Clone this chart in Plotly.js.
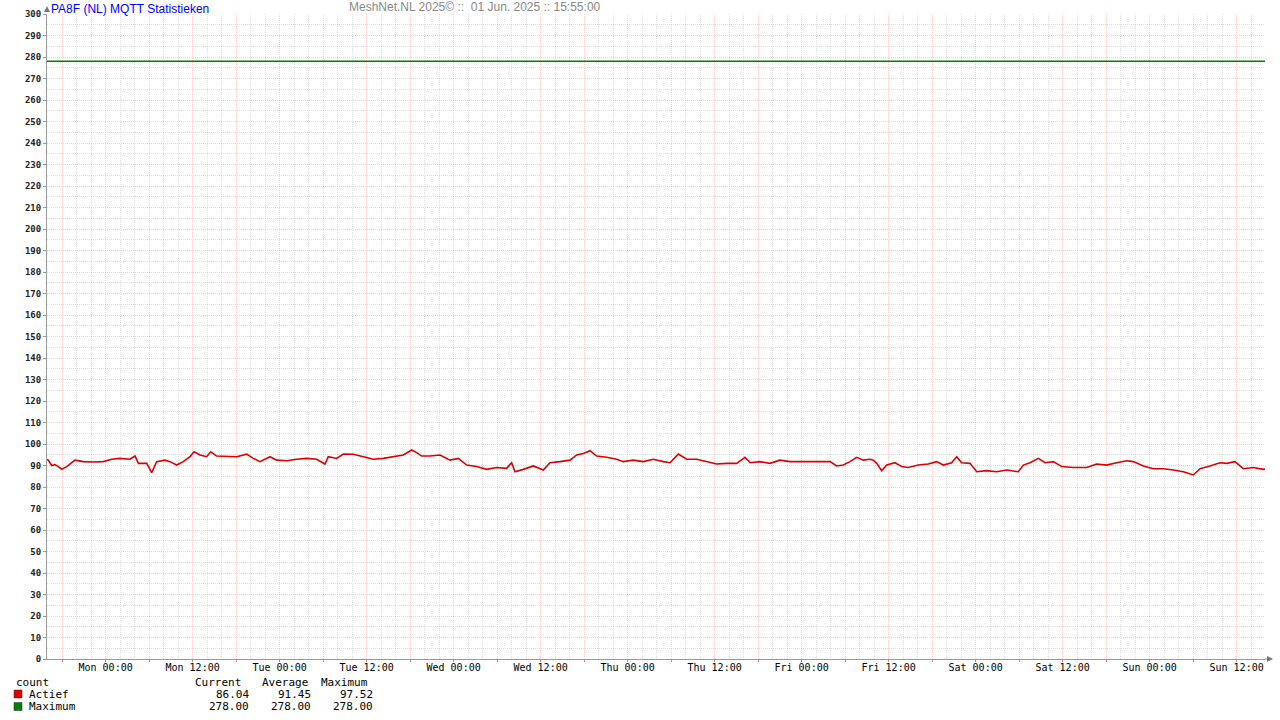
<!DOCTYPE html>
<html>
<head>
<meta charset="utf-8">
<script src="https://cdn.plot.ly/plotly-3.0.1.min.js"></script>
<style>html,body{margin:0;padding:0;background:#fff;}#chart{width:1280px;height:720px;}</style>
</head>
<body>
<div id="chart"></div>
<script>
// ---- data ----
var startTime = '2025-05-25T15:55:00Z';
var hoursOffset = [0.0,0.18,0.64,1.10,1.56,2.02,2.71,3.86,5.01,6.39,7.77,8.92,10.07,11.45,12.14,12.60,13.75,14.44,15.13,16.28,16.97,17.89,18.80,19.72,20.28,21.10,22.02,22.58,23.40,24.78,26.16,27.54,28.46,29.38,30.76,31.68,33.06,34.44,35.82,37.20,38.34,38.80,39.95,40.87,42.25,43.63,45.01,46.39,47.77,49.15,50.30,50.99,51.68,52.83,54.21,55.59,56.74,57.89,59.26,60.64,62.02,63.40,64.09,64.55,65.70,67.08,68.46,69.38,70.76,72.14,73.06,73.98,74.90,75.82,77.20,78.58,79.49,80.87,82.25,83.63,85.01,85.93,87.08,88.23,89.61,90.99,92.37,93.75,95.13,96.28,96.97,98.34,99.72,101.10,102.48,103.86,105.24,106.62,108.00,108.92,109.84,110.76,111.68,112.60,113.52,113.98,114.44,115.13,115.82,116.97,117.89,118.80,120.18,121.56,122.71,123.63,124.78,125.47,126.16,127.31,128.23,129.61,130.99,132.37,133.98,134.67,135.59,136.74,137.66,138.80,139.95,141.56,143.40,144.78,146.16,147.54,148.92,149.84,151.22,152.60,153.98,155.36,156.74,158.11,159.03,160.41,161.79,162.71,163.86,165.01,166.39,167.77,168.0];
var actief = [92.8,92.5,90.0,90.4,89.5,88.2,89.5,92.5,91.8,91.6,91.8,92.9,93.3,92.9,94.4,91.0,91.0,86.7,91.8,92.5,91.8,90.2,91.8,94.1,96.4,94.9,94.1,96.4,94.4,94.1,94.1,95.3,93.3,91.8,94.1,92.5,92.2,92.9,93.3,92.9,90.7,94.1,93.3,95.3,95.2,94.1,92.9,93.3,94.1,94.9,97.2,96.0,94.4,94.4,94.9,92.5,93.3,90.2,89.5,88.2,89.1,88.7,91.3,87.1,88.2,89.8,87.9,91.3,91.8,92.5,94.9,95.6,96.9,94.4,93.8,92.9,91.8,92.5,91.8,92.9,91.8,91.3,95.3,92.9,92.9,91.8,90.7,91.0,91.0,93.8,91.3,91.8,91.0,92.5,91.8,91.8,91.8,91.8,91.8,89.8,90.2,91.8,93.8,92.5,92.9,92.5,91.0,87.6,90.2,91.3,89.5,89.1,90.2,90.7,91.8,90.2,91.3,94.1,91.3,91.0,87.1,87.6,87.1,87.9,87.1,90.2,91.3,93.3,91.3,91.8,89.5,89.1,89.1,90.7,90.2,91.3,92.2,91.8,89.8,88.5,88.5,87.9,87.1,85.6,88.5,89.8,91.3,91.0,91.8,88.5,89.1,88.2,88.3];
var maximumValue = 278;
var xTickLabels = ['', 'Mon 00:00', '', 'Mon 12:00', '', 'Tue 00:00', '', 'Tue 12:00', '', 'Wed 00:00', '', 'Wed 12:00', '', 'Thu 00:00', '', 'Thu 12:00', '', 'Fri 00:00', '', 'Fri 12:00', '', 'Sat 00:00', '', 'Sat 12:00', '', 'Sun 00:00', '', 'Sun 12:00'];
var firstTick = '2025-05-25T18:00:00Z';
var legendNames = ['Actief', 'Maximum'];
var legendCurrent = ['86.04', '278.00'];
var legendAverage = ['91.45', '278.00'];
var legendMaximum = ['97.52', '278.00'];
var seriesColors = ['#dd0000', '#008000'];

// ---- build ----
var t0 = Date.parse(startTime);
var H = 3600000;
var xs = hoursOffset.map(function(h){ return t0 + h*H; });
var t1 = t0 + 168*H;
var tickStart = Date.parse(firstTick);
var tickVals = xTickLabels.map(function(_, i){ return tickStart + i*6*H; });
// minor grid every 2h, skipping positions of the 6h major grid
var minorVals = [];
for (var m = tickStart - 6*H; m <= t1; m += 2*H) {
  if (Math.round((m - tickStart)/H) % 6 !== 0 && m >= t0) minorVals.push(m);
}

var traces = [
  {x: [t0, t1], y: [maximumValue, maximumValue], type: 'scatter', mode: 'lines',
   line: {color: seriesColors[1], width: 1.5}, hoverinfo: 'skip'},
  {x: xs, y: actief, type: 'scatter', mode: 'lines',
   line: {color: seriesColors[0], width: 1.6}, hoverinfo: 'skip'}
];

// plot area in px
var L = 47, R = 1265, T = 14, B = 659;
function px(x){ return (x - L)/(R - L); }
function py(y){ return (B - y)/(B - T); }

var mono = 'DejaVu Sans Mono, monospace';
var annotations = [
  {text: 'PA8F (NL) MQTT Statistieken', xref: 'paper', yref: 'paper', x: px(49), y: py(0), xanchor: 'left', yanchor: 'top', showarrow: false, font: {family: 'Liberation Sans, Arial', size: 12, color: '#0000ff'}},
  {text: 'MeshNet.NL 2025\u00a9 ::  01 Jun. 2025 :: 15:55:00', xref: 'paper', yref: 'paper', x: px(347), y: py(-2), xanchor: 'left', yanchor: 'top', showarrow: false, font: {family: 'Liberation Sans, Arial', size: 12, color: '#888888'}},
  {text: 'count', xref: 'paper', yref: 'paper', x: px(14), y: py(682), xanchor: 'left', yanchor: 'middle', showarrow: false, font: {family: mono, size: 11, color: '#000'}},
  {text: 'Current', xref: 'paper', yref: 'paper', x: px(243), y: py(682), xanchor: 'right', yanchor: 'middle', showarrow: false, font: {family: mono, size: 11, color: '#000'}},
  {text: 'Average', xref: 'paper', yref: 'paper', x: px(310), y: py(682), xanchor: 'right', yanchor: 'middle', showarrow: false, font: {family: mono, size: 11, color: '#000'}},
  {text: 'Maximum', xref: 'paper', yref: 'paper', x: px(370), y: py(682), xanchor: 'right', yanchor: 'middle', showarrow: false, font: {family: mono, size: 11, color: '#000'}}
];
var shapes = [
  // axis arrows
  {type: 'path', xref: 'paper', yref: 'paper', path: 'M ' + px(44) + ' ' + py(12) + ' L ' + px(50) + ' ' + py(12) + ' L ' + px(47) + ' ' + py(6) + ' Z', fillcolor: '#777', line: {width: 0}},
  {type: 'line', xref: 'paper', yref: 'paper', x0: px(1265), x1: px(1272), y0: 0, y1: 0, line: {color: '#999', width: 1}},
  {type: 'path', xref: 'paper', yref: 'paper', path: 'M ' + px(1267) + ' ' + py(656) + ' L ' + px(1267) + ' ' + py(662) + ' L ' + px(1273) + ' ' + py(659) + ' Z', fillcolor: '#777', line: {width: 0}}
];
for (var i = 0; i < legendNames.length; i++) {
  var yy = 694 + i*12.5;
  shapes.push({type: 'rect', xref: 'paper', yref: 'paper', x0: px(14), x1: px(22), y0: py(yy-4), y1: py(yy+4), fillcolor: seriesColors[i], line: {color: '#333', width: 0.5}});
  annotations.push({text: legendNames[i], xref: 'paper', yref: 'paper', x: px(27), y: py(yy), xanchor: 'left', yanchor: 'middle', showarrow: false, font: {family: mono, size: 11, color: '#000'}});
  annotations.push({text: legendCurrent[i], xref: 'paper', yref: 'paper', x: px(251), y: py(yy), xanchor: 'right', yanchor: 'middle', showarrow: false, font: {family: mono, size: 11, color: '#000'}});
  annotations.push({text: legendAverage[i], xref: 'paper', yref: 'paper', x: px(313), y: py(yy), xanchor: 'right', yanchor: 'middle', showarrow: false, font: {family: mono, size: 11, color: '#000'}});
  annotations.push({text: legendMaximum[i], xref: 'paper', yref: 'paper', x: px(375), y: py(yy), xanchor: 'right', yanchor: 'middle', showarrow: false, font: {family: mono, size: 11, color: '#000'}});
}

var layout = {
  width: 1280, height: 720,
  margin: {l: L, r: 1280 - R, t: T, b: 720 - B, pad: 0},
  paper_bgcolor: '#ffffff', plot_bgcolor: '#ffffff',
  showlegend: false,
  xaxis: {
    type: 'date', range: [t0, t1], tickmode: 'array', tickvals: tickVals, ticktext: xTickLabels,
    showgrid: true, gridcolor: 'rgba(255,0,0,0.2)', griddash: '1px,1px', gridwidth: 1,
    showline: true, linecolor: '#999', linewidth: 1,
    ticks: 'outside', ticklen: 2, tickcolor: '#999',
    ticklabelstandoff: -3,
    tickfont: {family: mono, size: 10, color: '#000'},
    zeroline: false,
    minor: {tickmode: 'array', tickvals: minorVals, showgrid: true, gridcolor: 'rgba(0,0,0,0.12)', griddash: '1px,1px', ticks: ''}
  },
  yaxis: {
    range: [0, 300], tickmode: 'linear', tick0: 0, dtick: 10,
    showgrid: true, gridcolor: 'rgba(255,0,0,0.2)', griddash: '1px,1px', gridwidth: 1,
    showline: true, linecolor: '#999', linewidth: 1,
    ticks: 'outside', ticklen: 3, tickcolor: '#999',
    tickfont: {family: mono, size: 9, color: '#222', weight: 'bold'},
    zeroline: false,
    minor: {tickmode: 'linear', tick0: 5, dtick: 10, showgrid: true, gridcolor: 'rgba(0,0,0,0.12)', griddash: '1px,1px', ticks: ''}
  },
  annotations: annotations,
  shapes: shapes
};

Plotly.newPlot('chart', traces, layout, {staticPlot: true, displayModeBar: false});
</script>
</body>
</html>
